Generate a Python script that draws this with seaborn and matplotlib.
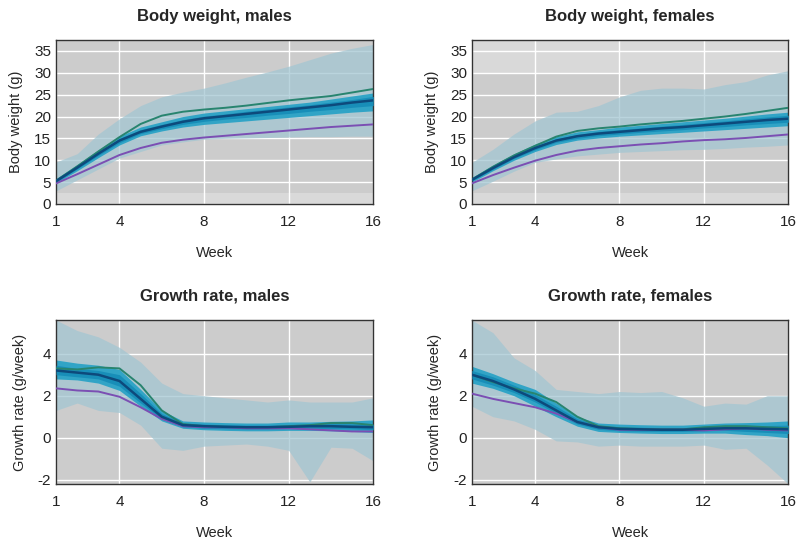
import matplotlib

matplotlib.use("Agg")
import matplotlib.pyplot as plt
import numpy as np
import pandas as pd
import seaborn as sns

WEEKS = list(range(1, 17))
X_TICKS = [1, 4, 8, 12, 16]

# body weight, males
bw_m_median = [5.2, 8.3, 11.5, 14.5, 16.5, 17.7, 18.8, 19.6, 20.1, 20.6, 21.1, 21.6, 22.1, 22.6, 23.2, 23.7]
bw_m_green = [5.3, 8.6, 12.0, 15.3, 18.3, 20.2, 21.1, 21.6, 22.0, 22.5, 23.1, 23.7, 24.2, 24.7, 25.5, 26.3]
bw_m_purple = [4.7, 6.8, 9.0, 11.2, 12.8, 14.0, 14.7, 15.2, 15.6, 16.0, 16.4, 16.8, 17.2, 17.6, 17.9, 18.2]
bw_m_outer_lo = [3.0, 5.5, 8.0, 10.5, 12.0, 13.5, 14.2, 14.8, 15.0, 15.1, 15.2, 15.3, 15.4, 15.4, 15.5, 15.5]
bw_m_outer_hi = [9.6, 11.5, 16.0, 19.5, 22.5, 24.5, 25.6, 26.5, 27.7, 29.0, 30.2, 31.5, 33.0, 34.5, 35.6, 36.5]
bw_m_mid_lo = [4.8, 7.6, 10.6, 13.5, 15.6, 16.7, 17.6, 18.2, 18.6, 19.0, 19.4, 19.8, 20.2, 20.6, 21.0, 21.3]
bw_m_mid_hi = [5.8, 9.0, 12.4, 15.5, 17.6, 18.8, 20.0, 20.8, 21.3, 21.8, 22.3, 22.8, 23.3, 24.0, 24.7, 25.4]
bw_m_in_lo = [5.0, 8.0, 11.1, 14.0, 16.1, 17.2, 18.2, 18.9, 19.4, 19.8, 20.3, 20.7, 21.2, 21.6, 22.1, 22.5]
bw_m_in_hi = [5.5, 8.6, 11.9, 15.0, 17.0, 18.2, 19.3, 20.1, 20.6, 21.2, 21.7, 22.2, 22.7, 23.3, 23.9, 24.6]

# body weight, females
bw_f_median = [5.5, 8.2, 10.7, 12.8, 14.5, 15.5, 16.1, 16.5, 16.9, 17.3, 17.6, 18.0, 18.4, 18.8, 19.2, 19.5]
bw_f_green = [5.6, 8.5, 11.1, 13.3, 15.4, 16.7, 17.3, 17.7, 18.2, 18.6, 19.0, 19.5, 20.0, 20.6, 21.3, 22.0]
bw_f_purple = [4.7, 6.6, 8.3, 9.9, 11.2, 12.2, 12.8, 13.2, 13.6, 13.9, 14.3, 14.6, 14.8, 15.1, 15.5, 15.9]
bw_f_outer_lo = [3.0, 5.2, 7.5, 9.5, 10.3, 11.0, 11.4, 11.8, 12.0, 12.2, 12.4, 12.5, 12.7, 13.0, 13.2, 13.5]
bw_f_outer_hi = [9.5, 12.5, 16.0, 19.0, 21.0, 21.2, 22.5, 24.5, 26.0, 26.5, 26.5, 26.3, 27.3, 28.0, 29.5, 30.5]
bw_f_mid_lo = [5.0, 7.6, 10.0, 12.0, 13.6, 14.6, 15.1, 15.5, 15.8, 16.1, 16.4, 16.7, 17.0, 17.3, 17.6, 17.9]
bw_f_mid_hi = [6.0, 8.9, 11.5, 13.7, 15.4, 16.5, 17.0, 17.6, 18.0, 18.4, 18.8, 19.2, 19.6, 20.1, 20.6, 21.0]
bw_f_in_lo = [5.3, 7.9, 10.4, 12.4, 14.1, 15.0, 15.6, 16.0, 16.4, 16.7, 17.0, 17.4, 17.7, 18.1, 18.4, 18.7]
bw_f_in_hi = [5.7, 8.5, 11.1, 13.2, 14.9, 15.9, 16.6, 17.0, 17.4, 17.8, 18.2, 18.6, 19.0, 19.5, 19.9, 20.3]

# growth rate, males
gr_m_median = [3.2, 3.1, 3.0, 2.7, 1.85, 1.0, 0.6, 0.55, 0.52, 0.5, 0.5, 0.52, 0.55, 0.55, 0.52, 0.5]
gr_m_green = [3.3, 3.25, 3.35, 3.3, 2.5, 1.3, 0.65, 0.55, 0.52, 0.5, 0.5, 0.55, 0.6, 0.7, 0.7, 0.6]
gr_m_purple = [2.35, 2.25, 2.2, 1.95, 1.45, 0.9, 0.55, 0.5, 0.5, 0.45, 0.45, 0.45, 0.4, 0.35, 0.3, 0.3]
gr_m_outer_lo = [1.3, 1.65, 1.3, 1.2, 0.6, -0.5, -0.6, -0.4, -0.35, -0.3, -0.4, -0.6, -2.1, -0.45, -0.5, -1.1]
gr_m_outer_hi = [5.6, 5.1, 4.8, 4.3, 3.6, 2.6, 2.1, 2.0, 1.9, 1.8, 1.7, 1.8, 1.7, 1.7, 1.7, 1.9]
gr_m_mid_lo = [2.8, 2.75, 2.6, 2.25, 1.5, 0.8, 0.45, 0.38, 0.35, 0.33, 0.33, 0.35, 0.35, 0.33, 0.3, 0.25]
gr_m_mid_hi = [3.7, 3.55, 3.45, 3.25, 2.3, 1.3, 0.8, 0.75, 0.72, 0.7, 0.7, 0.75, 0.75, 0.78, 0.8, 0.85]
gr_m_in_lo = [3.0, 2.9, 2.8, 2.45, 1.65, 0.9, 0.52, 0.45, 0.43, 0.42, 0.42, 0.44, 0.45, 0.44, 0.42, 0.38]
gr_m_in_hi = [3.45, 3.3, 3.2, 3.0, 2.1, 1.15, 0.7, 0.65, 0.62, 0.6, 0.6, 0.63, 0.65, 0.67, 0.66, 0.65]

# growth rate, females
gr_f_median = [3.0, 2.7, 2.3, 1.85, 1.3, 0.75, 0.5, 0.42, 0.4, 0.38, 0.38, 0.42, 0.45, 0.45, 0.42, 0.4]
gr_f_green = [3.0, 2.65, 2.35, 2.1, 1.7, 1.0, 0.55, 0.45, 0.42, 0.4, 0.4, 0.5, 0.55, 0.55, 0.5, 0.45]
gr_f_purple = [2.1, 1.85, 1.65, 1.45, 1.15, 0.75, 0.5, 0.38, 0.38, 0.38, 0.38, 0.35, 0.4, 0.45, 0.38, 0.35]
gr_f_outer_lo = [1.5, 1.0, 0.8, 0.4, -0.15, -0.2, -0.4, -0.35, -0.4, -0.4, -0.4, -0.35, -0.55, -0.5, -1.3, -2.2]
gr_f_outer_hi = [5.6, 5.0, 3.8, 3.2, 2.3, 2.2, 2.1, 2.2, 2.15, 2.2, 1.9, 1.5, 1.65, 1.6, 2.0, 2.0]
gr_f_mid_lo = [2.6, 2.35, 2.0, 1.5, 1.0, 0.55, 0.3, 0.25, 0.22, 0.2, 0.2, 0.22, 0.22, 0.15, 0.1, 0.0]
gr_f_mid_hi = [3.4, 3.05, 2.65, 2.3, 1.65, 1.0, 0.7, 0.65, 0.62, 0.6, 0.6, 0.65, 0.7, 0.72, 0.75, 0.8]
gr_f_in_lo = [2.8, 2.5, 2.15, 1.7, 1.15, 0.65, 0.4, 0.33, 0.31, 0.3, 0.3, 0.33, 0.35, 0.3, 0.25, 0.2]
gr_f_in_hi = [3.2, 2.9, 2.5, 2.05, 1.5, 0.9, 0.6, 0.52, 0.5, 0.48, 0.48, 0.52, 0.56, 0.58, 0.58, 0.6]

BW_TICKS = [0, 5, 10, 15, 20, 25, 30, 35]
GR_TICKS = [-2, 0, 2, 4]

OUTER = "#a3c6d2"
MID = "#2aa3c6"
INNER = "#178db8"
MEDIAN = "#0d4a7c"
GREEN = "#28846f"
PURPLE = "#7b4fb3"
BG_LIGHT = "#d9d9d9"
BG_DARK = "#cccccc"

sns.set_theme(style="darkgrid")
plt.rcParams["font.family"] = ["Liberation Sans", "DejaVu Sans"]
plt.rcParams["axes.unicode_minus"] = False


def draw_panel(ax, title, ylabel, ylim, yticks, median, green, purple,
               outer, mid, inner, ref_band=None):
    df = pd.DataFrame({"week": WEEKS, "median": median, "green": green, "purple": purple})
    if ref_band is None:
        ax.set_facecolor(BG_DARK)
    else:
        ax.set_facecolor(BG_LIGHT)
        ax.axhspan(ref_band[0], ref_band[1], color=BG_DARK, lw=0, zorder=0)
    ax.fill_between(WEEKS, outer[0], outer[1], color=OUTER, alpha=0.75, lw=0, zorder=1)
    ax.fill_between(WEEKS, mid[0], mid[1], color=MID, alpha=0.95, lw=0, zorder=2)
    ax.fill_between(WEEKS, inner[0], inner[1], color=INNER, alpha=0.95, lw=0, zorder=3)
    sns.lineplot(data=df, x="week", y="green", color=GREEN, lw=1.4, ax=ax, zorder=4)
    sns.lineplot(data=df, x="week", y="purple", color=PURPLE, lw=1.4, ax=ax, zorder=4)
    sns.lineplot(data=df, x="week", y="median", color=MEDIAN, lw=1.8, ax=ax, zorder=5)
    ax.set_xlim(1, 16)
    ax.set_ylim(*ylim)
    ax.set_xticks(X_TICKS)
    ax.set_yticks(yticks)
    ax.grid(True, color="white", lw=1.0)
    ax.set_axisbelow(True)
    ax.tick_params(length=0, labelsize=11, colors="#222222")
    ax.tick_params(axis="x", pad=8)
    ax.set_title(title, fontsize=12, fontweight="bold", pad=14)
    ax.set_xlabel("Week", fontsize=10.5, labelpad=12)
    ax.set_ylabel(ylabel, fontsize=10.5, labelpad=8)
    for spine in ax.spines.values():
        spine.set_visible(True)
        spine.set_color("#333333")
        spine.set_linewidth(1.0)


fig = plt.figure(figsize=(7.97, 5.41), dpi=100)
fig.patch.set_facecolor("white")
ax1 = fig.add_axes([0.0703, 0.623, 0.398, 0.303])
ax2 = fig.add_axes([0.592, 0.623, 0.397, 0.303])
ax3 = fig.add_axes([0.0703, 0.1054, 0.398, 0.303])
ax4 = fig.add_axes([0.592, 0.1054, 0.397, 0.303])

draw_panel(ax1, "Body weight, males", "Body weight (g)", (0, 37.5), BW_TICKS,
           bw_m_median, bw_m_green, bw_m_purple,
           (bw_m_outer_lo, bw_m_outer_hi), (bw_m_mid_lo, bw_m_mid_hi),
           (bw_m_in_lo, bw_m_in_hi), ref_band=(2.5, 40))
draw_panel(ax2, "Body weight, females", "Body weight (g)", (0, 37.5), BW_TICKS,
           bw_f_median, bw_f_green, bw_f_purple,
           (bw_f_outer_lo, bw_f_outer_hi), (bw_f_mid_lo, bw_f_mid_hi),
           (bw_f_in_lo, bw_f_in_hi), ref_band=(2.5, 30))
draw_panel(ax3, "Growth rate, males", "Growth rate (g/week)", (-2.2, 5.6), GR_TICKS,
           gr_m_median, gr_m_green, gr_m_purple,
           (gr_m_outer_lo, gr_m_outer_hi), (gr_m_mid_lo, gr_m_mid_hi),
           (gr_m_in_lo, gr_m_in_hi))
draw_panel(ax4, "Growth rate, females", "Growth rate (g/week)", (-2.2, 5.6), GR_TICKS,
           gr_f_median, gr_f_green, gr_f_purple,
           (gr_f_outer_lo, gr_f_outer_hi), (gr_f_mid_lo, gr_f_mid_hi),
           (gr_f_in_lo, gr_f_in_hi))

fig.savefig("out.png", dpi=100)
plt.close(fig)
